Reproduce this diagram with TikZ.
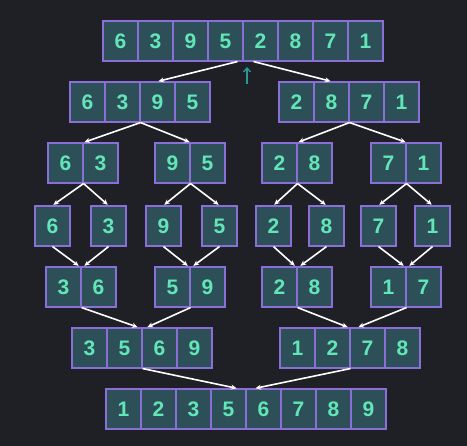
\documentclass[tikz,border=0pt]{standalone}
\usepackage{fontspec}
\setmainfont{Liberation Sans}
\usetikzlibrary{arrows.meta}
\definecolor{bg}{HTML}{1E2026}
\definecolor{cellfill}{HTML}{2D5058}
\definecolor{cellline}{HTML}{8B6FD8}
\definecolor{digit}{HTML}{62E6B8}
\definecolor{pointer}{HTML}{2A9A95}
\tikzset{
  cell/.style={draw=cellline,fill=cellfill,line width=1.1pt,minimum width=35pt,minimum height=40pt,inner sep=0pt,text=digit,font=\fontsize{21}{21}\selectfont\bfseries},
  link/.style={white,line width=1.6pt,-{Stealth[length=5.5pt,width=5pt]},shorten >=1pt}
}
\begin{document}
\begin{tikzpicture}[x=1pt,y=-1pt]
\fill[bg] (0,0) rectangle (467,446);
\useasboundingbox (0,0) rectangle (467,446);
\foreach \d [count=\i] in {6,3,9,5,2,8,7,1} \node[cell] (a\i) at (103+35*\i-17.5,41) {\d};
\foreach \d [count=\i] in {6,3,9,5} \node[cell] (b\i) at (70+35*\i-17.5,102) {\d};
\foreach \d [count=\i] in {2,8,7,1} \node[cell] (c\i) at (279+35*\i-17.5,102) {\d};
\foreach \d [count=\i] in {6,3} \node[cell] (d\i) at (48+35*\i-17.5,163) {\d};
\foreach \d [count=\i] in {9,5} \node[cell] (e\i) at (155+35*\i-17.5,163) {\d};
\foreach \d [count=\i] in {2,8} \node[cell] (f\i) at (262+35*\i-17.5,163) {\d};
\foreach \d [count=\i] in {7,1} \node[cell] (g\i) at (371+35*\i-17.5,163) {\d};
\foreach \x/\d [count=\i] in {35/6,91/3,146/9,202/5,256/2,309/8,361/7,415/1} \node[cell] (h\i) at (\x+17.5,226) {\d};
\foreach \d [count=\i] in {3,6} \node[cell] (i\i) at (46+35*\i-17.5,287) {\d};
\foreach \d [count=\i] in {5,9} \node[cell] (j\i) at (155+35*\i-17.5,287) {\d};
\foreach \d [count=\i] in {2,8} \node[cell] (k\i) at (262+35*\i-17.5,287) {\d};
\foreach \d [count=\i] in {1,7} \node[cell] (l\i) at (371+35*\i-17.5,287) {\d};
\foreach \d [count=\i] in {3,5,6,9} \node[cell] (m\i) at (72+35*\i-17.5,348) {\d};
\foreach \d [count=\i] in {1,2,7,8} \node[cell] (n\i) at (280+35*\i-17.5,348) {\d};
\foreach \d [count=\i] in {1,2,3,5,6,7,8,9} \node[cell] (o\i) at (106+35*\i-17.5,409) {\d};
\draw[link] ([xshift=-6pt]a4.south east) -- (b3.north);
\draw[link] ([xshift=10pt]a4.south east) -- (c2.north);
\coordinate (tail) at (247,84);
\coordinate (head) at (247,67);
\draw[pointer,line width=1.3pt,-{Straight Barb[length=4pt,width=7pt]}] (tail) -- (head);
\draw[link] (b2.south east) -- (d1.north east);
\draw[link] (b2.south east) -- (e1.north east);
\draw[link] (c2.south east) -- (f1.north east);
\draw[link] (c2.south east) -- (g1.north east);
\draw[link] (d1.south east) -- (h1.north);
\draw[link] (d1.south east) -- (h2.north);
\draw[link] (e1.south east) -- (h3.north);
\draw[link] (e1.south east) -- (h4.north);
\draw[link] (f1.south east) -- (h5.north);
\draw[link] (f1.south east) -- (h6.north);
\draw[link] (g1.south east) -- (h7.north);
\draw[link] (g1.south east) -- (h8.north);
\draw[link] (h1.south) -- ([xshift=-2pt]i1.north east);
\draw[link] (h2.south) -- ([xshift=2pt]i1.north east);
\draw[link] (h3.south) -- ([xshift=-2pt]j1.north east);
\draw[link] (h4.south) -- ([xshift=2pt]j1.north east);
\draw[link] (h5.south) -- ([xshift=-2pt]k1.north east);
\draw[link] (h6.south) -- ([xshift=2pt]k1.north east);
\draw[link] (h7.south) -- ([xshift=-2pt]l1.north east);
\draw[link] (h8.south) -- ([xshift=2pt]l1.north east);
\draw[link] (i1.south east) -- ([xshift=-4pt]m2.north east);
\draw[link] (j1.south east) -- ([xshift=4pt]m2.north east);
\draw[link] (k1.south east) -- ([xshift=-2pt]n2.north east);
\draw[link] (l1.south east) -- ([xshift=7pt]n2.north east);
\draw[link] (m2.south east) -- ([xshift=-9pt]o4.north east);
\draw[link] (n2.south east) -- ([xshift=8pt]o4.north east);
\end{tikzpicture}
\end{document}
